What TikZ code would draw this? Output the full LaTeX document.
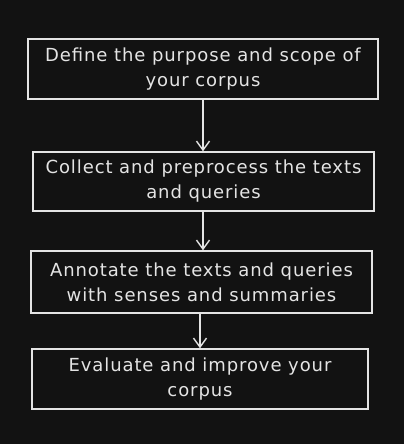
\documentclass[tikz,border=0pt]{standalone}
\usepackage{fontspec}
\setmainfont[LetterSpace=5]{DejaVu Sans}
\usetikzlibrary{arrows.meta}
\definecolor{bg}{HTML}{121212}
\definecolor{ink}{HTML}{E4E4E4}
\tikzset{
  stepbox/.style={draw=ink, line width=1.4pt, text=ink, align=center,
    inner sep=0pt, font=\fontsize{18}{25}\selectfont},
  flow/.style={draw=ink, line width=1.4pt, -{Straight Barb[length=9pt,width=13pt,line width=1.4pt]}}
}
\begin{document}
\begin{tikzpicture}[x=1pt,y=-1pt]
\fill[bg] (0,0) rectangle (404,444);
\useasboundingbox (0,0) rectangle (404,444);
\node[stepbox, minimum width=350pt, minimum height=60pt] (b1) at (203,69)
  {Define the purpose and scope of\\your corpus};
\node[stepbox, minimum width=341pt, minimum height=59pt] (b2) at (203.5,181.5)
  {Collect and preprocess the texts\\and queries};
\node[stepbox, minimum width=341pt, minimum height=62pt] (b3) at (201.5,282)
  {Annotate the texts and queries\\with senses and summaries};
\node[stepbox, minimum width=336pt, minimum height=60pt] (b4) at (200,379)
  {Evaluate and improve your\\corpus};
\draw[flow] (b1.south -| 203,0) -- (b2.north -| 203,0);
\draw[flow] (b2.south -| 203,0) -- (b3.north -| 203,0);
\draw[flow] (b3.south -| 200,0) -- (b4.north -| 200,0);
\end{tikzpicture}
\end{document}
